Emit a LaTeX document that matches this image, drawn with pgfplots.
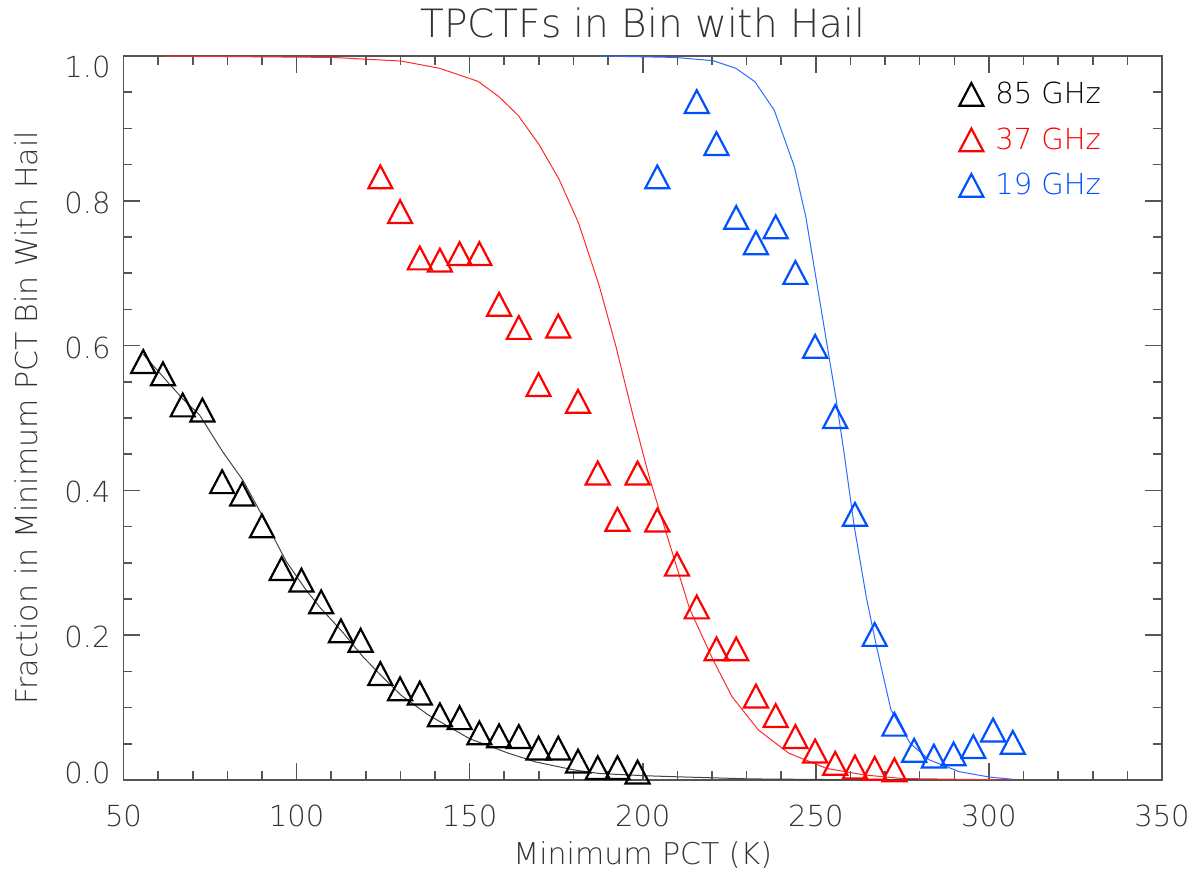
\documentclass[border=0pt]{standalone}
\usepackage{fontspec}
\setmainfont{DejaVu Sans}[UprightFont={* ExtraLight}]
\usepackage{pgfplots}
\pgfplotsset{compat=1.18}
\definecolor{axgray}{HTML}{555555}
\definecolor{txtgray}{HTML}{333333}
\definecolor{idlred}{HTML}{FF0000}
\definecolor{idlblue}{HTML}{0050FF}
\definecolor{linered}{HTML}{FF2A2A}
\definecolor{lineblue}{HTML}{2D6BFF}
\definecolor{lineblack}{HTML}{444444}
\pgfdeclareplotmark{idltri}{%
  \pgfpathmoveto{\pgfqpoint{-\pgfplotmarksize}{-0.95\pgfplotmarksize}}%
  \pgfpathlineto{\pgfqpoint{0pt}{0.95\pgfplotmarksize}}%
  \pgfpathlineto{\pgfqpoint{\pgfplotmarksize}{-0.95\pgfplotmarksize}}%
  \pgfpathclose
  \pgfusepathqstroke
}
\begin{document}
\begin{tikzpicture}
\begin{axis}[
  at={(0,0)}, anchor=south west,
  scale only axis, width=519.25pt, height=362pt,
  xmin=50, xmax=350, ymin=0, ymax=1,
  xtick={50,100,150,200,250,300,350}, minor x tick num=4,
  xticklabels={50,100,150,200,250,300,350},
  ytick={0,0.2,0.4,0.6,0.8,1.0}, minor y tick num=3,
  yticklabels={\raisebox{4.7pt}[\height][\depth]{0.0},0.2,0.4,0.6,0.8,\raisebox{-4.3pt}[\height][\depth]{1.0}},
  axis line style={axgray, line width=0.8pt},
  every tick/.style={axgray, line width=0.8pt},
  major tick length=8.5pt, minor tick length=4.5pt,
  tick label style={font=\fontsize{14.5}{17}\selectfont, text=txtgray},
  xticklabel style={anchor=base, yshift=-23.5pt},
  yticklabel style={anchor=east, inner sep=0pt, xshift=-6.3pt, yshift=-1pt},
  title={TPCTFs in Bin with Hail},
  title style={at={(0.5,1)}, anchor=base, yshift=3pt, font=\fontsize{19.5}{23}\selectfont, text=txtgray},
  xlabel={Minimum PCT (K)},
  xlabel style={at={(0.5,0)}, anchor=base, yshift=-42.5pt, font=\fontsize{15}{18}\selectfont, text=txtgray},
  ylabel={Fraction in Minimum PCT Bin With Hail},
  ylabel style={at={([xshift=-43pt]rel axis cs:0,0.5)}, anchor=base, rotate=0, font=\fontsize{15}{18}\selectfont, text=txtgray},
  legend style={draw=none, fill=none, at={(rel axis cs:0.8045,0.970)}, anchor=north west, font=\fontsize{14.5}{17}\selectfont, row sep=6.5pt, column sep=4pt, inner sep=0pt},
  legend cell align=left,
]
\addplot[only marks, mark=idltri, mark size=6pt, mark options={black, line width=1.1pt}] coordinates {
(55.7,0.578) (61.4,0.561) (67.1,0.518) (72.8,0.511) (78.5,0.412) (84.3,0.395)
(90.0,0.351) (95.7,0.292) (101.4,0.276) (107.1,0.246) (112.8,0.206) (118.5,0.193)
(124.2,0.147) (129.9,0.126) (135.6,0.120) (141.4,0.090) (147.1,0.086) (152.8,0.065)
(158.5,0.061) (164.2,0.060) (169.9,0.044) (175.6,0.044) (181.3,0.026) (187.0,0.017)
(192.7,0.017) (198.5,0.011)
};
\addlegendentry{\textcolor{black}{85 GHz}}
\addplot[only marks, mark=idltri, mark size=6pt, mark options={idlred, line width=1.1pt}] coordinates {
(124.2,0.833) (129.9,0.785) (135.6,0.721) (141.4,0.718) (147.1,0.727) (152.8,0.727)
(158.5,0.657) (164.2,0.625) (169.9,0.546) (175.6,0.627) (181.3,0.523) (187.0,0.424)
(192.7,0.360) (198.5,0.424) (204.2,0.359) (209.9,0.298) (215.6,0.239) (221.3,0.181)
(227.0,0.181) (232.7,0.116) (238.4,0.089) (244.1,0.060) (249.8,0.040) (255.6,0.023)
(261.3,0.018) (267.0,0.016) (272.7,0.014)
};
\addlegendentry{\textcolor{idlred}{37 GHz}}
\addplot[only marks, mark=idltri, mark size=6pt, mark options={idlblue, line width=1.1pt}] coordinates {
(204.2,0.833) (215.6,0.937) (221.3,0.879) (227.0,0.777) (232.7,0.742) (238.4,0.764)
(244.1,0.701) (249.8,0.599) (255.6,0.502) (261.3,0.367) (267.0,0.201) (272.7,0.077)
(278.4,0.041) (284.1,0.033) (289.8,0.036) (295.5,0.046) (301.2,0.069) (306.9,0.052)
};
\addlegendentry{\textcolor{idlblue}{19 GHz}}
\addplot[no marks, lineblack, line width=0.5pt, forget plot] coordinates {
(55.7,0.588) (61.4,0.557) (67.0,0.527) (72.0,0.504) (78.7,0.453) (84.5,0.414)
(90.2,0.364) (97.0,0.302) (102.8,0.262) (107.0,0.237) (110.5,0.219) (113.7,0.202)
(119.2,0.170) (124.7,0.143) (130.2,0.117) (138.0,0.090) (150.0,0.057) (161.2,0.037)
(169.0,0.025) (180.0,0.014) (187.5,0.009) (200.0,0.006) (209.4,0.0045) (231.0,0.0015)
(260.0,0.0004) (307.0,0.0)
};
\addplot[no marks, linered, line width=0.5pt, forget plot] coordinates {
(61.5,1.0) (110.4,0.998) (130.2,0.993) (141.3,0.983) (152.4,0.965) (158.4,0.944)
(164.0,0.918) (170.0,0.878) (175.8,0.830) (181.4,0.770) (187.4,0.683) (192.3,0.598)
(197.1,0.505) (201.9,0.418) (206.8,0.341) (213.5,0.237) (220.3,0.166) (225.8,0.115)
(233.4,0.069) (242.2,0.037) (253.1,0.016) (264.0,0.007) (275.0,0.002) (307.0,0.0)
};
\addplot[no marks, lineblue, line width=0.5pt, forget plot] coordinates {
(187.5,1.0) (209.4,0.998) (220.3,0.9935) (226.9,0.983) (232.4,0.9645) (238.0,0.925)
(243.8,0.847) (247.1,0.778) (251.1,0.663) (253.9,0.582) (255.9,0.525) (258.3,0.447)
(261.1,0.350) (264.6,0.252) (267.5,0.185) (271.7,0.097) (277.2,0.051) (282.7,0.028)
(291.4,0.0115) (300.2,0.004) (306.8,0.001)
};
\end{axis}
\pgfresetboundingbox
\path[use as bounding box] (-61.75pt,-45.5pt) rectangle (535.25pt,390pt);
\end{tikzpicture}
\end{document}
